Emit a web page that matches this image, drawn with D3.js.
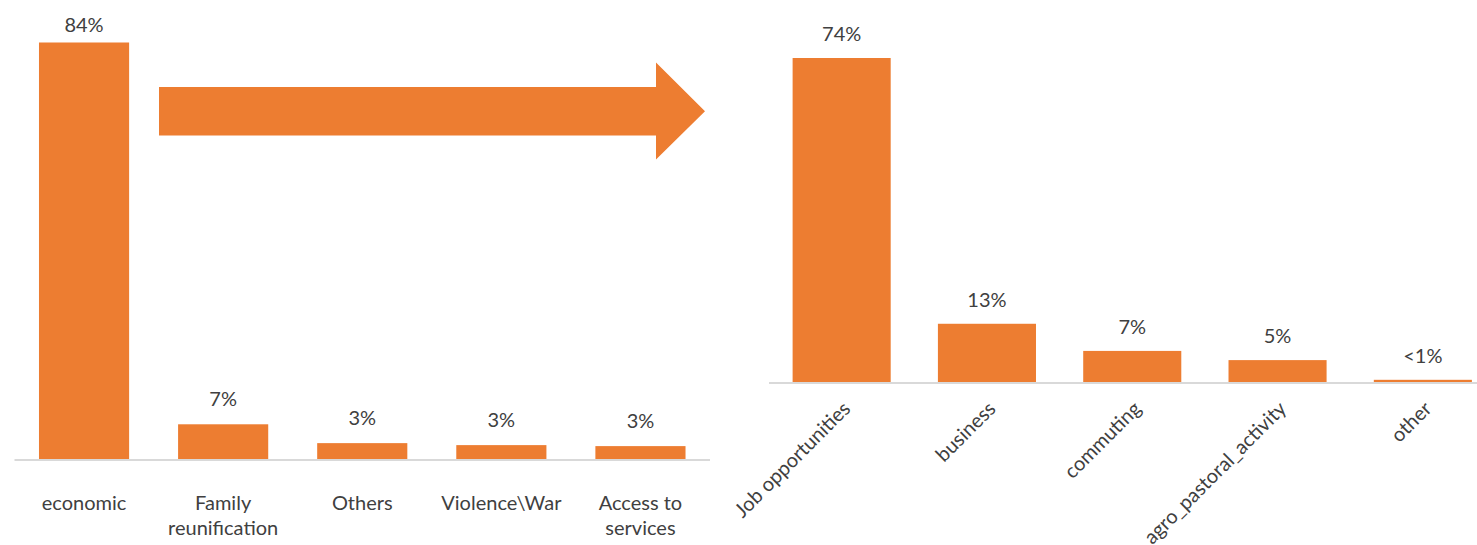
<!DOCTYPE html>
<html>
<head>
<meta charset="utf-8">
<script src="https://cdn.jsdelivr.net/npm/d3@7"></script>
<style>
  body { margin: 0; background: #fff; }
  svg text { font-family: Lato, "Open Sans", sans-serif; fill: #404040; }
</style>
</head>
<body>
<div id="chart"></div>
<script>
// reasons for leaving (left) and economic breakdown (right)
const reasonCategories = [["economic"], ["Family", "reunification"], ["Others"], ["Violence\\War"], ["Access to", "services"]];
const reasonValues = [84, 7, 3.2, 2.8, 2.6];

const economicCategories = ["Job opportunities", "business", "commuting", "agro_pastoral_activity", "other"];
const economicValues = [74, 13.3, 7.1, 5, 0.5];

const W = 1477, H = 545;
const orange = "#ED7D31";
const axisColor = "#D9D9D9";
const fontSize = 20;

const fmt = v => v < 1 ? "<1%" : Math.round(v) + "%";

const svg = d3.select("#chart").append("svg")
    .attr("width", W)
    .attr("height", H);

// ---- left chart
const leftBase = 459;
const xL = d3.scaleBand()
    .domain(d3.range(reasonValues.length))
    .range([14.5, 710])
    .paddingInner(0.352)
    .paddingOuter(0.176);
const yL = d3.scaleLinear().domain([0, 84]).range([leftBase, 42.5]);

const left = svg.append("g");

left.selectAll(".bar")
    .data(reasonValues)
    .enter()
    .append("rect")
    .attr("x", (d, i) => xL(i))
    .attr("width", xL.bandwidth())
    .attr("y", d => yL(d))
    .attr("height", d => leftBase - yL(d))
    .style("fill", orange);

left.append("line")
    .attr("x1", xL.range()[0]).attr("x2", xL.range()[1])
    .attr("y1", leftBase + 1).attr("y2", leftBase + 1)
    .style("stroke", axisColor)
    .style("stroke-width", 2);

left.selectAll(".value")
    .data(reasonValues)
    .enter()
    .append("text")
    .attr("x", (d, i) => xL(i) + xL.bandwidth() / 2)
    .attr("y", d => Math.max(yL(d) - 18, 32))
    .attr("text-anchor", "middle")
    .style("font-size", fontSize + "px")
    .text(fmt);

const catL = left.selectAll(".cat")
    .data(reasonCategories)
    .enter()
    .append("text")
    .attr("text-anchor", "middle")
    .style("font-size", fontSize + "px");

catL.selectAll("tspan")
    .data((d, i) => d.map(line => ({ line, i })))
    .enter()
    .append("tspan")
    .attr("x", d => xL(d.i) + xL.bandwidth() / 2)
    .attr("y", (d, j) => 510 + j * 25)
    .text(d => d.line);

// ---- arrow between the two charts
const shaftTop = 87, shaftBottom = 135.5, headTop = 62.5, headBottom = 159.5;
const arrowStart = 159, headStart = 656, arrowTip = 705;
const arrowMid = (shaftTop + shaftBottom) / 2;
svg.append("path")
    .attr("d", d3.line()([
        [arrowStart, shaftTop], [headStart, shaftTop], [headStart, headTop],
        [arrowTip, arrowMid], [headStart, headBottom], [headStart, shaftBottom],
        [arrowStart, shaftBottom]
    ]) + "Z")
    .style("fill", orange);

// ---- right chart
const rightBase = 382;
const xR = d3.scaleBand()
    .domain(economicCategories)
    .range([769, 769 + 5 * 145.3])
    .paddingInner(0.325)
    .paddingOuter(0.1625);
const yR = d3.scaleLinear().domain([0, 74]).range([rightBase, 58]);

const right = svg.append("g");

right.selectAll(".bar")
    .data(economicValues)
    .enter()
    .append("rect")
    .attr("x", (d, i) => xR(economicCategories[i]))
    .attr("width", xR.bandwidth())
    .attr("y", d => yR(d))
    .attr("height", d => rightBase - yR(d))
    .style("fill", orange);

right.append("line")
    .attr("x1", xR.range()[0]).attr("x2", W)
    .attr("y1", rightBase + 1).attr("y2", rightBase + 1)
    .style("stroke", axisColor)
    .style("stroke-width", 2);

right.selectAll(".value")
    .data(economicValues)
    .enter()
    .append("text")
    .attr("x", (d, i) => xR(economicCategories[i]) + xR.bandwidth() / 2)
    .attr("y", d => yR(d) - 17)
    .attr("text-anchor", "middle")
    .style("font-size", fontSize + "px")
    .text(fmt);

right.selectAll(".cat")
    .data(economicCategories)
    .enter()
    .append("text")
    .attr("text-anchor", "end")
    .attr("transform", d => `translate(${xR(d) + xR.bandwidth() / 2 + 10},${rightBase + 28}) rotate(-45)`)
    .style("font-size", fontSize + "px")
    .text(d => d);
</script>
</body>
</html>
